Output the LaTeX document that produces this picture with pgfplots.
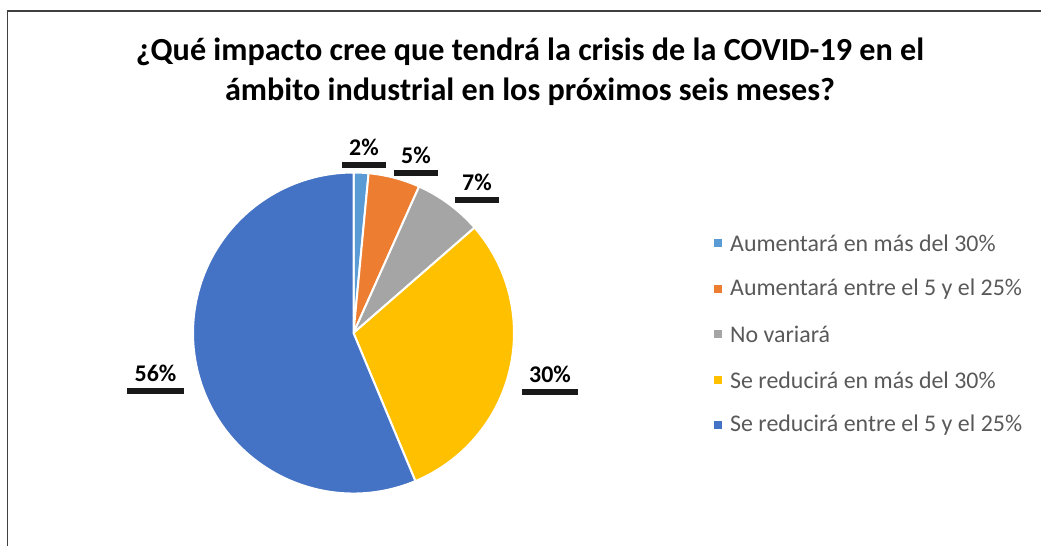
\documentclass[border=0pt]{standalone}
\usepackage{pgfplots}
\pgfplotsset{compat=1.18}
\usepackage{pgfplotstable}
\usepackage{fontspec}
\setmainfont{Carlito}
\usetikzlibrary{shadows}
\definecolor{c1}{HTML}{5B9BD5}
\definecolor{c2}{HTML}{ED7D31}
\definecolor{c3}{HTML}{A5A5A5}
\definecolor{c4}{HTML}{FFC000}
\definecolor{c5}{HTML}{4472C4}
\definecolor{legtext}{HTML}{595959}

% value ; colour ; label x ; label y ; legend y ; name
\pgfplotstableread[col sep=semicolon]{
value;color;lx;ly;legy;name
1.5;c1;364;147;243;Aumentará en más del 30\%
5.2;c2;416;155;289;Aumentará entre el 5 y el 25\%
6.9;c3;477;182;334;No variará
30.1;c4;550;374;380;Se reducirá en más del 30\%
56.3;c5;155.5;373;425;Se reducirá entre el 5 y el 25\%
}\piedata

\begin{document}
\begin{tikzpicture}
\begin{axis}[
  width=1041bp, height=546bp, scale only axis,
  hide axis, clip=false,
  xmin=0, xmax=1041, ymin=0, ymax=546, y dir=reverse,
]
\pgfplotsextra{
  % frame
  \draw[line width=1.6bp, black!75] (axis cs:7.5,546) -- (axis cs:7.5,11) -- (axis cs:1041,11);
  % title
  \node[font=\bfseries\fontsize{32.3}{40}\selectfont, align=center, text=black]
    at (axis cs:530,72) {¿Qué impacto cree que tendrá la crisis de la COVID-19 en el\\ámbito industrial en los próximos seis meses?};
  \xdef\cum{0}
  \pgfplotstablegetrowsof{\piedata}
  \pgfmathtruncatemacro\nrows{\pgfplotsretval-1}
  \foreach \i in {0,...,\nrows}{
    \pgfplotstablegetelem{\i}{value}\of{\piedata}\let\val\pgfplotsretval
    \pgfplotstablegetelem{\i}{color}\of{\piedata}\let\col\pgfplotsretval
    \pgfmathsetmacro\aone{90-3.6*\cum}
    \pgfmathsetmacro\atwo{90-3.6*(\cum+\val)}
    \fill[fill=\col, draw=white, line width=2bp, line join=round]
      (axis cs:353.5,333) -- ++(\aone:160.5bp)
      arc[start angle=\aone, end angle=\atwo, radius=160.5bp] -- cycle;
    \pgfmathsetmacro\newcum{\cum+\val}
    \xdef\cum{\newcum}
  }
  \foreach \i in {0,...,\nrows}{
    \pgfplotstablegetelem{\i}{value}\of{\piedata}\let\val\pgfplotsretval
    \pgfplotstablegetelem{\i}{color}\of{\piedata}\let\col\pgfplotsretval
    \pgfplotstablegetelem{\i}{lx}\of{\piedata}\let\lx\pgfplotsretval
    \pgfplotstablegetelem{\i}{ly}\of{\piedata}\let\ly\pgfplotsretval
    \pgfplotstablegetelem{\i}{legy}\of{\piedata}\let\legy\pgfplotsretval
    \pgfplotstablegetelem{\i}{name}\of{\piedata}\let\nm\pgfplotsretval
    % data label
    \node[fill=white, inner xsep=7.5bp, inner ysep=0pt, minimum height=29bp,
          font=\bfseries\fontsize{24}{28}\selectfont,
          drop shadow={shadow xshift=0pt, shadow yshift=-6bp, fill=black, opacity=0.9}]
      at (axis cs:\lx,\ly) {\pgfmathprintnumber[fixed,precision=0,assume math mode=true]{\val}\%};
    % legend
    \fill[\col] (axis cs:718,\legy) +(-4bp,-4bp) rectangle +(4bp,4bp);
    \node[anchor=west, inner sep=0pt, text=legtext, font=\fontsize{24}{28}\selectfont]
      at (axis cs:730,\legy) {\nm};
  }
}
\end{axis}
\pgfresetboundingbox
\path[use as bounding box] (current axis.south west) rectangle (current axis.north east);
\end{tikzpicture}
\end{document}
